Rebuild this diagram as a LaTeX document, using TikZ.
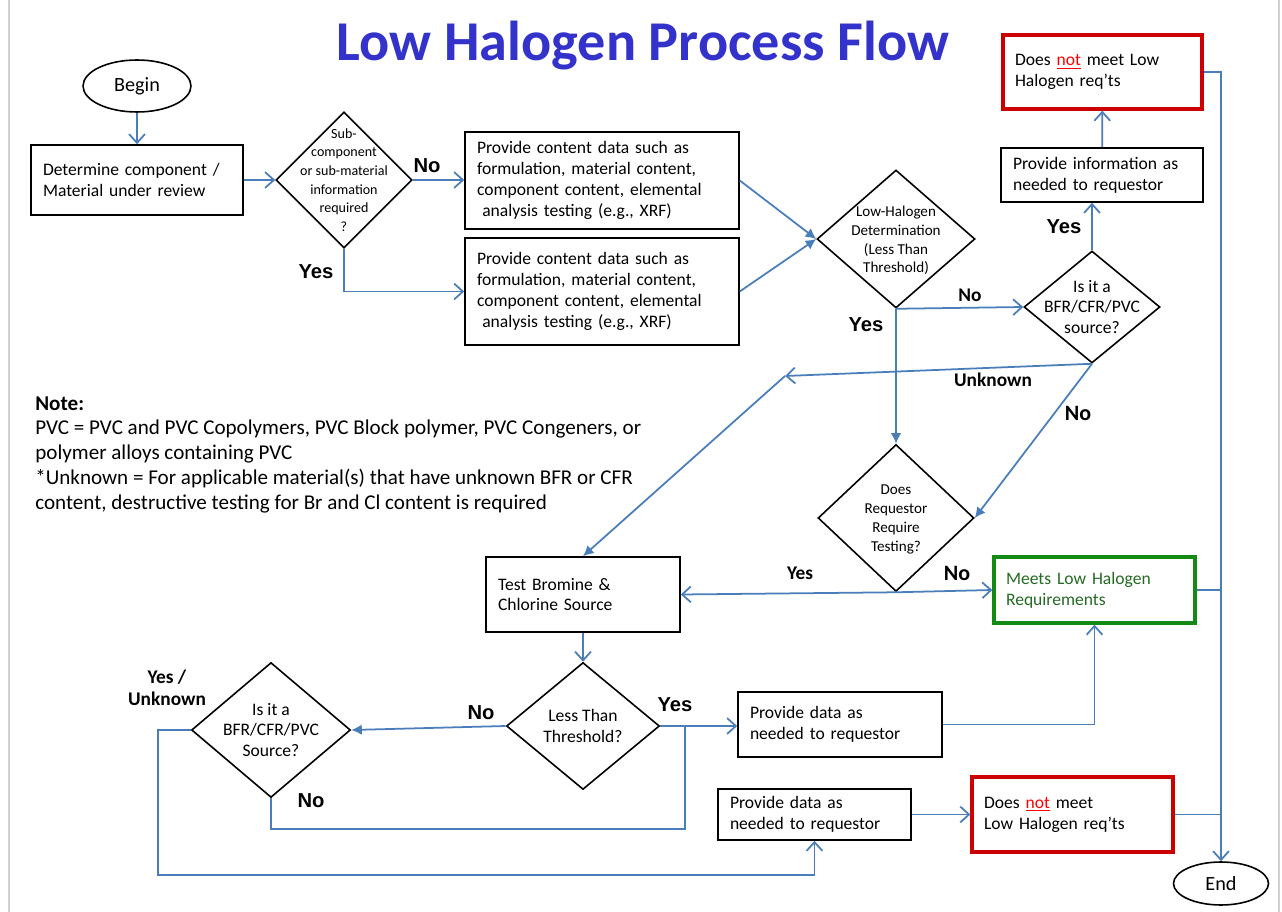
\documentclass[tikz,border=0pt]{standalone}
\usepackage{fontspec}
\setmainfont{Carlito}
\newfontfamily\arialfont{Liberation Sans}
\usepackage{xcolor}
\usetikzlibrary{shapes.geometric, arrows.meta, positioning}
\definecolor{linkblue}{HTML}{4A7EBB}
\definecolor{titleblue}{HTML}{3333CC}
\definecolor{nored}{HTML}{CC0000}
\definecolor{okgreen}{HTML}{138A13}
\definecolor{oktext}{HTML}{256B25}

\begin{document}
\begin{tikzpicture}[x=0.02cm, y=-0.02cm,
    box/.style={draw, line width=0.9pt, inner xsep=0.24cm, inner ysep=0pt, align=left, font=\fontsize{10}{11.9}\selectfont},
    redbox/.style={box, draw=nored, line width=1.9pt},
    greenbox/.style={box, draw=okgreen, line width=1.9pt, text=oktext},
    dia/.style={draw, diamond, line width=0.9pt, inner sep=0pt},
    dtext/.style={align=center, inner sep=0pt, font=\fontsize{8.6}{10.7}\selectfont},
    dtextb/.style={align=center, inner sep=0pt, font=\fontsize{10}{11.6}\selectfont},
    term/.style={draw, ellipse, line width=0.9pt, inner sep=0pt, font=\fontsize{11.5}{13}\selectfont},
    link/.style={draw=linkblue, line width=1pt},
    barb/.style={link, -{Straight Barb[length=5pt, width=9pt]}},
    tri/.style={link, -{Latex[length=6pt, width=6pt]}},
    ylab/.style={inner sep=0pt, font=\arialfont\bfseries\fontsize{11.5}{13}\selectfont},
    clab/.style={inner sep=0pt, align=center, font=\bfseries\fontsize{11}{12.5}\selectfont}
  ]
  \fill[white] (0,0) rectangle (1282,912);
  \useasboundingbox (0,0) rectangle (1282,912);
  \draw[black!18, line width=1pt] (9,0) -- (9,912);
  \draw[black!18, line width=1pt] (1279,0) -- (1279,912);

  \node[text=titleblue, font=\bfseries\fontsize{32}{37}\selectfont] (title) at (643,46) {Low Halogen Process Flow};

  % start and first question
  \node[term, minimum width=2.16cm, minimum height=1.04cm] (begin) at (137,86) {Begin};
  \node[box, minimum height=1.4cm, text width=3.76cm] (det) at (137,180) {Determine component /\\Material under review};
  \node[dia, minimum width=2.72cm, minimum height=2.72cm] (sub) at (344,180) {};
  \node[dtext, font=\fontsize{8}{10.6}\selectfont] (subt) at (sub) {Sub-\\component\\or sub-material\\information\\required\\?};
  \node[box, minimum height=1.94cm, text width=5.0cm] (data1) at (602,180.5) {Provide content data such as\\formulation, material content,\\component content, elemental\\\hspace*{3pt}analysis testing (e.g., XRF)};
  \node[box, minimum height=2.14cm, text width=5.0cm] (data2) at (602,291.5) {Provide content data such as\\formulation, material content,\\component content, elemental\\\hspace*{3pt}analysis testing (e.g., XRF)};

  % determination
  \node[dia, minimum width=3.16cm, minimum height=2.76cm] (lowh) at (896,239) {};
  \node[dtext] (lowht) at (896,240.5) {Low-Halogen\\Determination\\(Less Than\\Threshold)};
  \node[dia, minimum width=2.72cm, minimum height=2.24cm] (src1) at (1092,307) {};
  \node[dtextb] (src1t) at (src1) {Is it a\\BFR/CFR/PVC\\source?};
  \node[box, minimum height=1.08cm, text width=3.56cm] (info) at (1102,175) {Provide information as\\needed to requestor};
  \node[redbox, minimum height=1.48cm, text width=3.5cm] (fail1) at (1102.5,72) {Does \textcolor{red}{\underline{not}} meet Low\\Halogen req'ts};
  \node[dia, minimum width=3.12cm, minimum height=2.94cm] (askt) at (896,518) {};
  \node[dtext] (asktt) at (896,519.5) {Does\\Requestor\\Require\\Testing?};

  % testing
  \node[box, minimum height=1.5cm, text width=3.4cm] (test) at (583,594.5) {Test Bromine \&\\Chlorine Source};
  \node[greenbox, minimum height=1.32cm, text width=3.54cm] (pass) at (1094.5,590) {Meets Low Halogen\\Requirements};
  \node[dia, minimum width=3.06cm, minimum height=2.54cm] (less) at (583,726) {};
  \node[dtextb] (lesst) at (less) {Less Than\\Threshold?};
  \node[dia, minimum width=3.18cm, minimum height=2.7cm] (src2) at (271,730) {};
  \node[dtextb] (src2t) at (src2) {Is it a\\BFR/CFR/PVC\\Source?};
  \node[box, minimum height=1.3cm, text width=3.6cm] (give1) at (840,724.5) {Provide data as\\needed to requestor};
  \node[box, minimum height=1.02cm, text width=3.38cm] (give2) at (814.5,814.5) {Provide data as\\needed to requestor};
  \node[redbox, minimum height=1.5cm, text width=3.54cm] (fail2) at (1072.5,814.5) {Does \textcolor{red}{\underline{not}} meet\\Low Halogen req'ts};
  \node[term, minimum width=1.9cm, minimum height=0.86cm] (stop) at (1221,883.5) {End};

  \node[anchor=north west, align=left, inner sep=0pt, font=\fontsize{12}{14.1}\selectfont] (note) at (35,396) {\textbf{Note:}\\PVC = PVC and PVC Copolymers, PVC Block polymer, PVC Congeners, or\\polymer alloys containing PVC\\{*}Unknown = For applicable material(s) that have unknown BFR or CFR\\content, destructive testing for Br and Cl content is required};

  % labels
  \node[ylab] (noa) at (427,166) {No};
  \node[ylab] (yesa) at (316,272) {Yes};
  \node[clab] (nob) at (970,295) {No};
  \node[ylab] (yesb) at (866,325) {Yes};
  \node[ylab] (yesc) at (1064,227) {Yes};
  \node[clab] (unkn) at (993,380) {Unknown};
  \node[clab, font=\bfseries\fontsize{12.5}{14}\selectfont] (noc) at (1078,413) {No};
  \node[clab] (yesd) at (800,573) {Yes};
  \node[clab, font=\bfseries\fontsize{12.5}{14}\selectfont] (nod) at (957,573) {No};
  \node[ylab] (noe) at (481,713) {No};
  \node[ylab] (yese) at (675,705) {Yes};
  \node[ylab] (nof) at (311,801) {No};
  \node[clab] (yesunk) at (167,688) {Yes /\\Unknown};

  % connectors
  \draw[barb] (begin) -- (det);
  \draw[barb] (det) -- (sub);
  \draw[barb] (sub.east) -- (sub.east -| data1.west);
  \draw[barb] (sub.south) |- (data2.west);
  \draw[tri] (data1.east) -- (lowh.west);
  \draw[tri] (data2.east) -- (lowh.west);
  \draw[barb] (lowh.south) -- (src1.west);
  \draw[tri] (lowh.south) -- (askt.north);
  \draw[barb] (src1.north) -- (src1.north |- info.south);
  \draw[barb] (info) -- (fail1);
  \draw[barb] (fail1.east) -| (stop.north);
  \coordinate (unk) at (785,376);
  \draw[barb] (src1.south) -- (unk);
  \draw[tri] (unk) -- (test.north);
  \draw[tri] (src1.south) -- (askt.east);
  \draw[barb] (askt.south) -- (test.east);
  \draw[barb] (askt.south) -- (pass.west);
  \draw[link] (pass.east) -- (pass.east -| stop.north);
  \draw[barb] (test) -- (less);
  \draw[tri] (less.west) -- (src2.east);
  \draw[barb] (less.east) -- (less.east -| give1.west);
  \coordinate (back) at (685,829);
  \draw[link] (src2.south) |- (back) -- (back |- less.east);
  \coordinate (around) at (158,875);
  \draw[barb] (src2.west) -| (around) -| (give2.south);
  \draw[barb] (give1.east) -| (pass.south);
  \draw[barb] (give2) -- (fail2);
  \draw[link] (fail2.east) -- (fail2.east -| stop.north);
\end{tikzpicture}
\end{document}
